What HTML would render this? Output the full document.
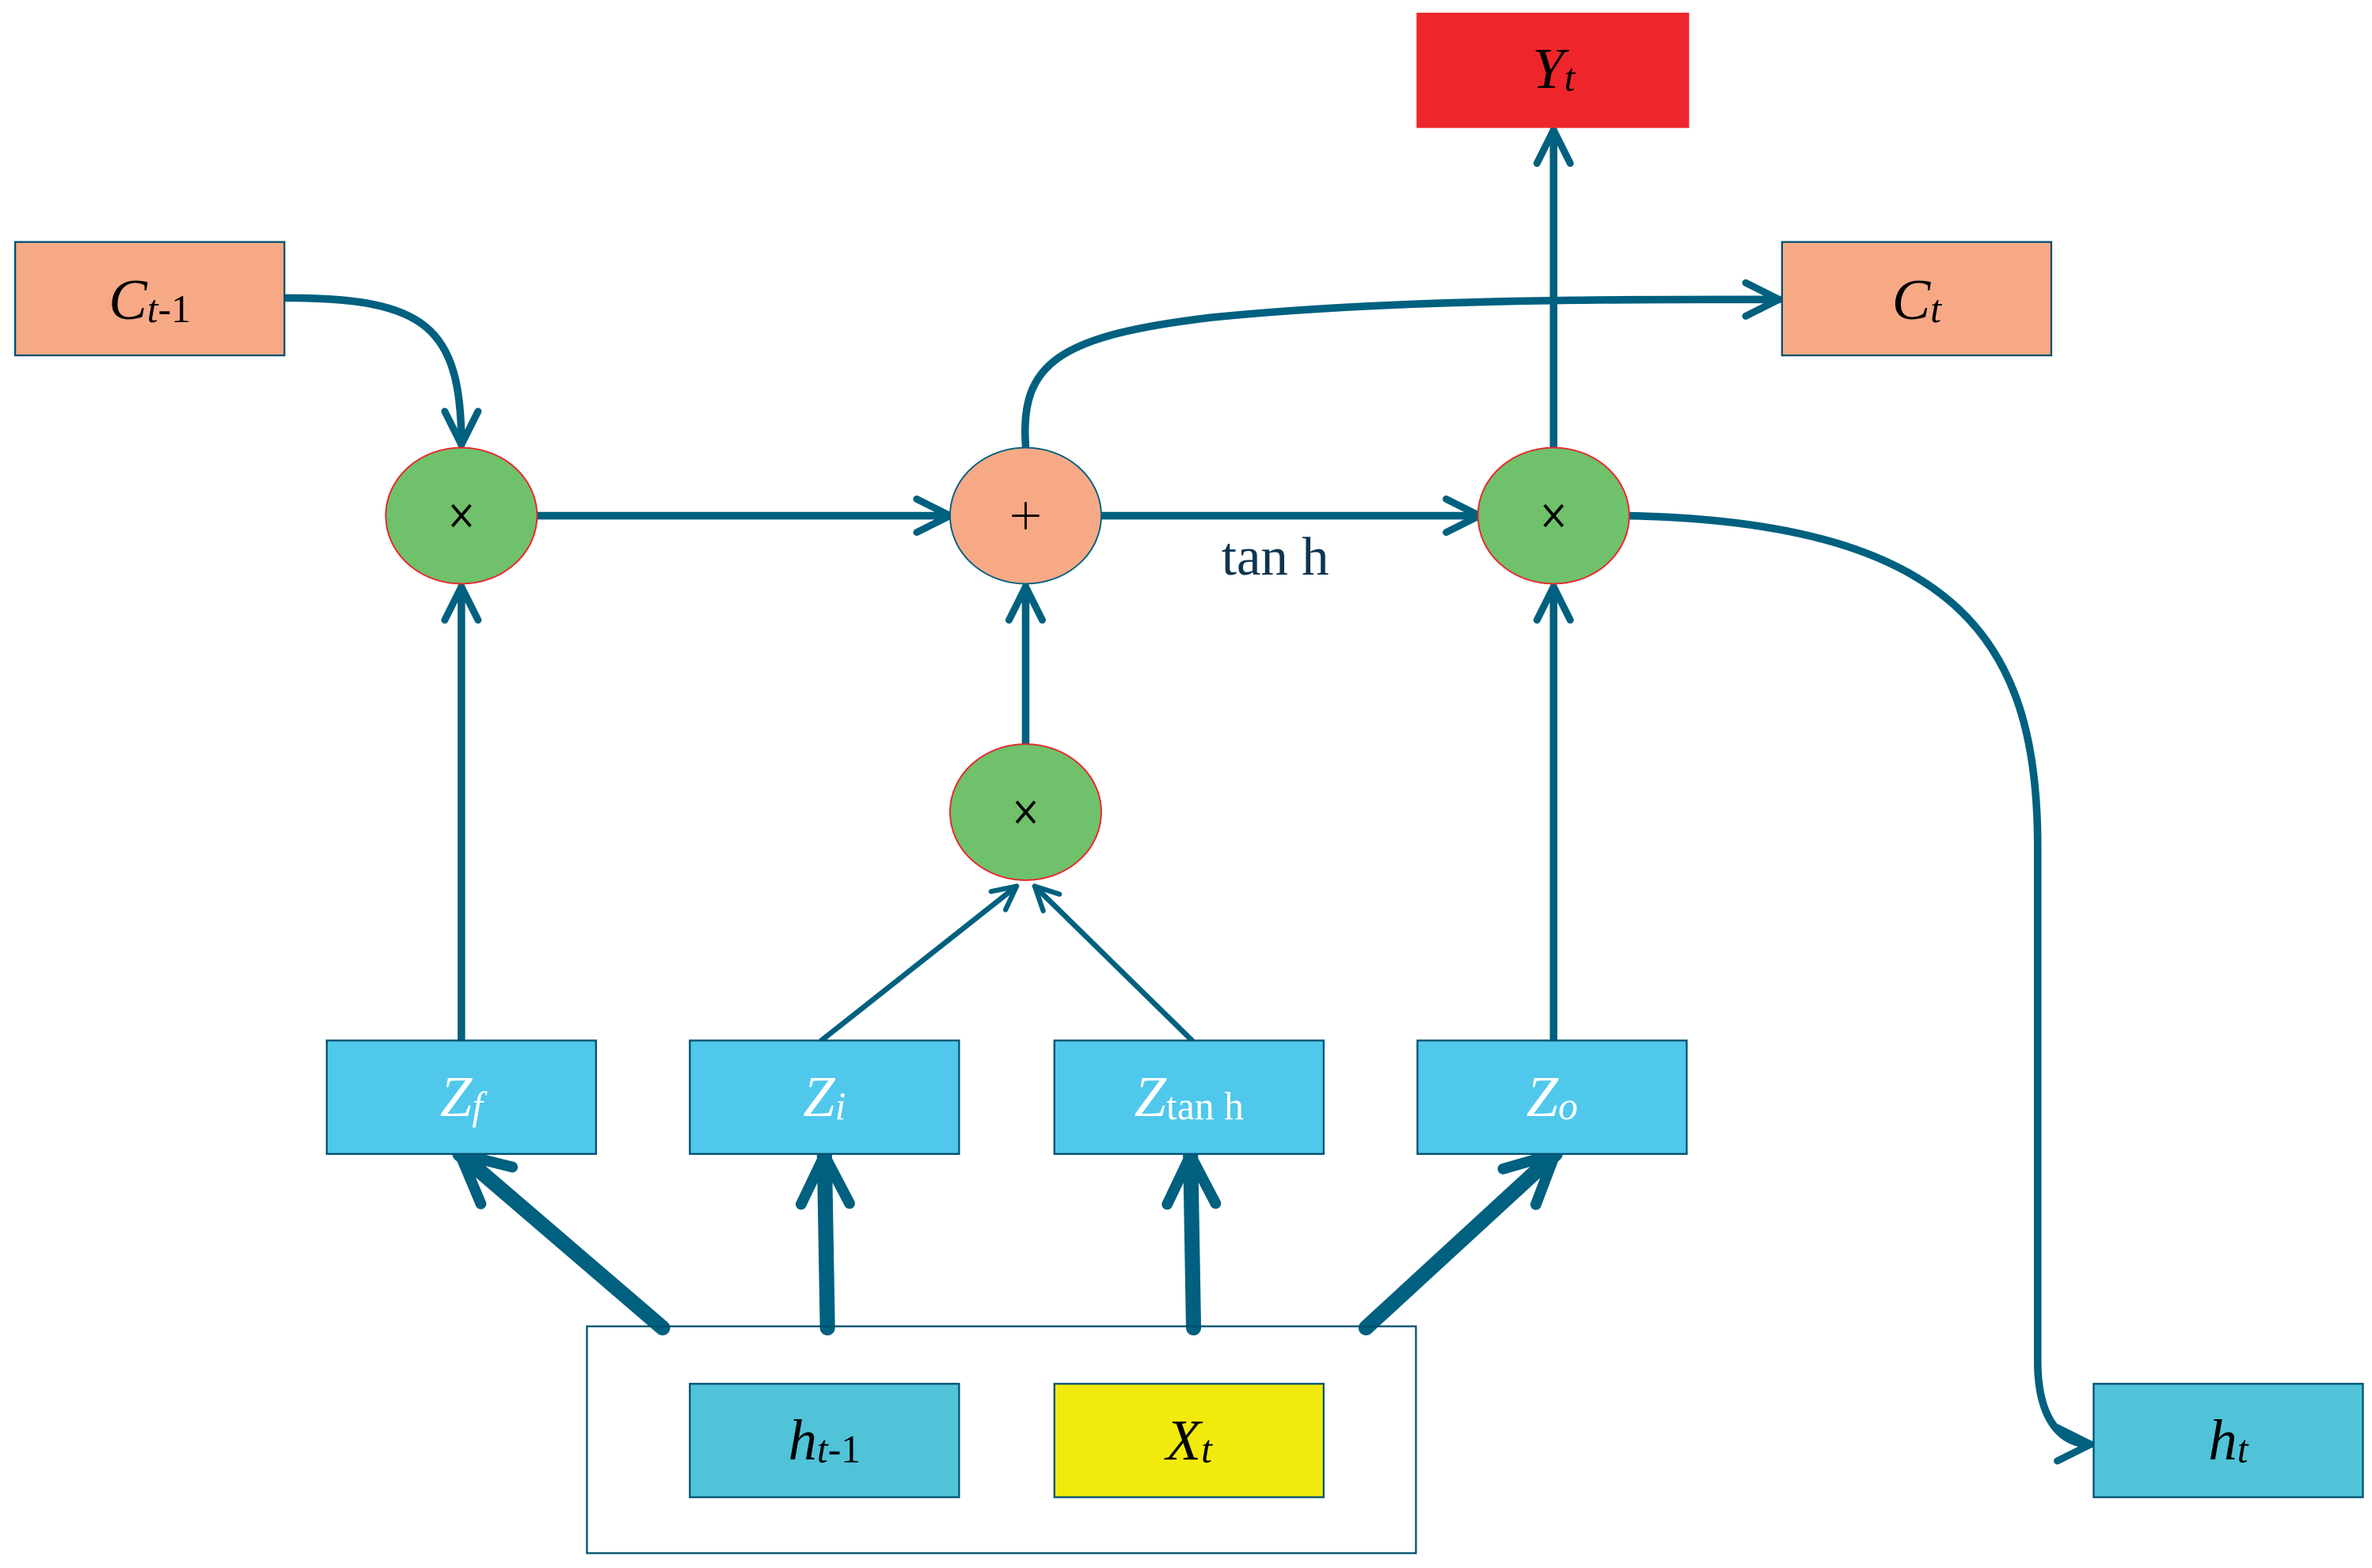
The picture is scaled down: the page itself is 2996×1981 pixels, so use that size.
<!DOCTYPE html>
<html><head><meta charset="utf-8"><style>html,body{margin:0;padding:0;background:#fff}svg{display:block}</style></head><body>
<svg width="2996" height="1981" viewBox="0 0 1568 1036.8" xmlns="http://www.w3.org/2000/svg" font-family="'Liberation Serif',serif">
<defs>
<marker id="a" viewBox="0 0 10 10" refX="9" refY="5" markerWidth="5.5" markerHeight="5.5" orient="auto" markerUnits="strokeWidth"><path d="M1,1 L9,5 L1,9" fill="none" stroke="#00607f" stroke-width="1.7" stroke-linecap="round" stroke-linejoin="round"/></marker>
<marker id="b" viewBox="0 0 10 10" refX="9" refY="5" markerWidth="4" markerHeight="4" orient="auto" markerUnits="strokeWidth"><path d="M1,1 L9,5 L1,9" fill="none" stroke="#00607f" stroke-width="1.8" stroke-linecap="round" stroke-linejoin="round"/></marker>
</defs>
<g stroke="#00607f" fill="none" stroke-linecap="round">
<path d="M189,197 C280,197 305,215 305,294" stroke-width="5" marker-end="url(#a)"/>
<path d="M355,341 L628,341" stroke-width="5" marker-end="url(#a)"/>
<path d="M728,341 L978,341" stroke-width="5" marker-end="url(#a)"/>
<path d="M678,295 C674,240 700,222 800,210 C920,198 1050,198 1176,198" stroke-width="5" marker-end="url(#a)"/>
<path d="M1027,295 L1027,86" stroke-width="5" marker-end="url(#a)"/>
<path d="M1075,341 C1300,345 1347,430 1347,560 L1347,900 C1347,935 1360,955 1382,955" stroke-width="5" marker-end="url(#a)"/>
<path d="M305,688 L305,388" stroke-width="5" marker-end="url(#a)"/>
<path d="M678,492 L678,388" stroke-width="5" marker-end="url(#a)"/>
<path d="M1027,688 L1027,388" stroke-width="5" marker-end="url(#a)"/>
<path d="M543,688 L672,586" stroke-width="3.5" marker-end="url(#a)"/>
<path d="M788,688 L684,586" stroke-width="3.5" marker-end="url(#a)"/>
<path d="M438,878 L304,763" stroke-width="10" marker-end="url(#b)"/>
<path d="M547,878 L545,764" stroke-width="10" marker-end="url(#b)"/>
<path d="M789,878 L787,764" stroke-width="10" marker-end="url(#b)"/>
<path d="M903,878 L1028,763" stroke-width="10" marker-end="url(#b)"/>
</g>
<ellipse cx="305" cy="341" rx="50" ry="45" fill="#70c16b" stroke="#e8262b" stroke-width="1"/>
<ellipse cx="678" cy="341" rx="50" ry="45" fill="#f7a986" stroke="#00607f" stroke-width="1"/>
<ellipse cx="1027" cy="341" rx="50" ry="45" fill="#70c16b" stroke="#e8262b" stroke-width="1"/>
<ellipse cx="678" cy="537" rx="50" ry="45" fill="#70c16b" stroke="#e8262b" stroke-width="1"/>
<g stroke="#000" stroke-width="2">
<path d="M299,334 L311,348 M311,334 L299,348"/>
<path d="M1021,334 L1033,348 M1033,334 L1021,348"/>
<path d="M672,530 L684,544 M684,530 L672,544"/>
<path d="M678,332 L678,350 M669,341 L687,341" stroke-width="1.5"/>
</g>
<text x="843" y="380" font-size="36" text-anchor="middle" fill="#0d3450">tan h</text>
<g stroke="#00506f" stroke-width="1.2">
<rect x="10" y="160" width="178" height="75" fill="#f7a986"/>
<rect x="1178" y="160" width="178" height="75" fill="#f7a986"/>
<rect x="937" y="9" width="179" height="75" fill="#ee262b" stroke="#ee262b"/>
<rect x="216" y="688" width="178" height="75" fill="#50c8ec"/>
<rect x="456" y="688" width="178" height="75" fill="#50c8ec"/>
<rect x="697" y="688" width="178" height="75" fill="#50c8ec"/>
<rect x="937" y="688" width="178" height="75" fill="#50c8ec"/>
<rect x="388" y="877" width="548" height="150" fill="none"/>
<rect x="456" y="915" width="178" height="75" fill="#50c3d9"/>
<rect x="697" y="915" width="178" height="75" fill="#f2ea0c"/>
<rect x="1384" y="915" width="178" height="75" fill="#50c3d9"/>
</g>
<g font-size="38" text-anchor="middle" font-style="italic">
<text x="99" y="211" fill="#000">C<tspan font-size="26" dy="2">t</tspan><tspan font-size="26" font-style="normal">-1</tspan></text>
<text x="1267" y="211" fill="#000">C<tspan font-size="26" dy="2">t</tspan></text>
<text x="1027" y="58" fill="#000">Y<tspan font-size="26" dy="2">t</tspan></text>
<text x="305" y="738" fill="#fff">Z<tspan font-size="26" dy="2">f</tspan></text>
<text x="545" y="738" fill="#fff">Z<tspan font-size="26" dy="2">i</tspan></text>
<text x="786" y="738" fill="#fff">Z<tspan font-size="26" dy="2" font-style="normal">tan h</tspan></text>
<text x="1026" y="738" fill="#fff">Z<tspan font-size="26" dy="2">o</tspan></text>
<text x="545" y="965" fill="#000">h<tspan font-size="26" dy="2">t</tspan><tspan font-size="26" font-style="normal">-1</tspan></text>
<text x="786" y="965" fill="#000">X<tspan font-size="26" dy="2">t</tspan></text>
<text x="1473" y="965" fill="#000">h<tspan font-size="26" dy="2">t</tspan></text>
</g>
</svg>
</body></html>
